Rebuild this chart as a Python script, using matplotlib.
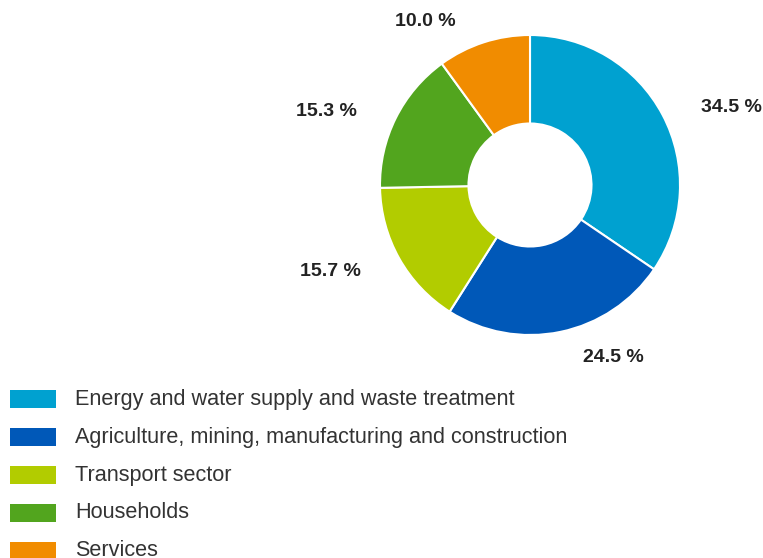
import matplotlib.pyplot as plt
from matplotlib.patches import Rectangle

plt.rcParams['font.family'] = ['Liberation Sans', 'DejaVu Sans']

# Shares of emissions by sector (percent)
sectors = [
    "Energy and water supply and waste treatment",
    "Agriculture, mining, manufacturing and construction",
    "Transport sector",
    "Households",
    "Services",
]
shares = [34.5, 24.5, 15.7, 15.3, 10.0]
colors = ["#00a1d0", "#0058b8", "#b2cc00", "#52a51e", "#f18c00"]

# label anchor points in figure pixels (from top-left)
label_px = [(731, 108), (613, 357), (330, 272), (326, 112), (425, 21)]

W, H = 763, 558
fig = plt.figure(figsize=(W / 100, H / 100), dpi=100)

# donut: centre (530,185), radius 150 px
cx, cy, r = 530, 185, 150
ax = fig.add_axes([(cx - r) / W, (H - cy - r) / H, 2 * r / W, 2 * r / H])
ax.pie(shares, colors=colors, startangle=90, counterclock=False,
       radius=1.0, wedgeprops=dict(width=0.59, edgecolor="white", linewidth=1.5))
ax.set_xlim(-1, 1)
ax.set_ylim(-1, 1)
ax.set_axis_off()

for val, (px, py) in zip(shares, label_px):
    fig.text(px / W, 1 - py / H, f"{val:.1f} %", ha="center", va="center",
             fontsize=14, fontweight="bold", color="#222222")

# legend drawn by hand
y0, step = 399, 38
for i, (name, col) in enumerate(zip(sectors, colors)):
    yc = y0 + i * step
    fig.patches.append(Rectangle((10 / W, 1 - (yc + 9) / H), 46 / W, 18 / H,
                                 transform=fig.transFigure, facecolor=col,
                                 edgecolor="none"))
    fig.text(75 / W, 1 - yc / H, name, ha="left", va="center",
             fontsize=15.55, color="#333333")

fig.savefig("out.png", dpi=100)
